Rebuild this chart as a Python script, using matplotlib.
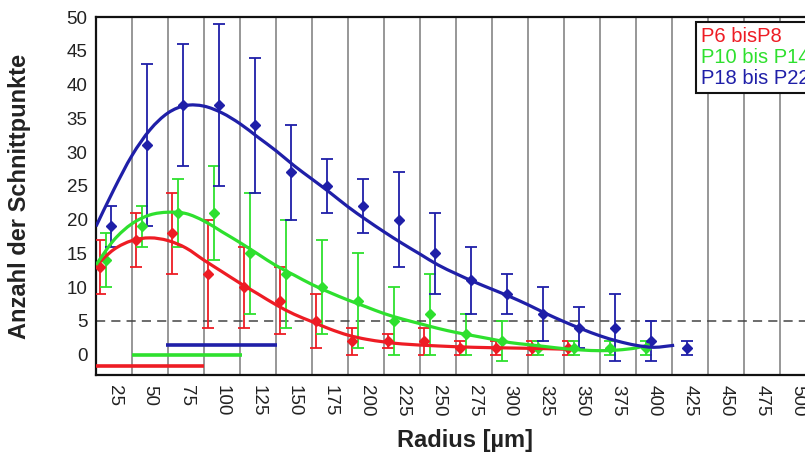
import matplotlib
matplotlib.use("Agg")
import matplotlib.pyplot as plt
from matplotlib.lines import Line2D
from matplotlib.path import Path
from matplotlib.patches import PathPatch

plt.rcParams.update(
    {
        "font.family": ["Liberation Sans", "DejaVu Sans"],
        "font.size": 13,
    }
)

# bin labels on the x axis (radius, um)
radius_bins = [25, 50, 75, 100, 125, 150, 175, 200, 225, 250,
               275, 300, 325, 350, 375, 400, 425, 450, 475, 500]

# measured means and errors per bin
red_bins = [25, 50, 75, 100, 125, 150, 175, 200, 225, 250, 275, 300, 325, 350]
red_mean = [13, 17, 18, 12, 10, 8, 5, 2, 2, 2, 1, 1, 1, 1]
red_err = [4, 4, 6, 8, 6, 5, 4, 2, 1, 2, 1, 1, 1, 1]

green_bins = [25, 50, 75, 100, 125, 150, 175, 200, 225, 250, 275, 300, 325, 350, 375, 400]
green_mean = [14, 19, 21, 21, 15, 12, 10, 8, 5, 6, 3, 2, 1, 1, 1, 1]
green_err = [4, 3, 5, 7, 9, 8, 7, 7, 5, 6, 3, 3, 1, 1, 1, 1]

blue_bins = [25, 50, 75, 100, 125, 150, 175, 200, 225, 250, 275, 300, 325, 350, 375, 400, 425]
blue_mean = [19, 31, 37, 37, 34, 27, 25, 22, 20, 15, 11, 9, 6, 4, 4, 2, 1]
blue_err = [3, 12, 9, 12, 10, 7, 4, 4, 7, 6, 5, 3, 4, 3, 5, 3, 1]

# fitted curves
red_fit_x = [12.5, 25, 37.5, 50, 62.5, 75, 87.5, 100, 112.5, 125, 137.5, 150, 162.5,
             175, 187.5, 200, 212.5, 225, 250, 275, 300, 325, 340]
red_fit_y = [13.2, 15.6, 16.9, 17.3, 16.9, 15.8, 14.0, 12.3, 10.6, 9.0, 7.4, 6.0, 4.9,
             3.8, 2.9, 2.3, 1.9, 1.6, 1.3, 1.1, 1.0, 0.9, 0.8]

green_fit_x = [12.5, 25, 37.5, 50, 62.5, 75, 87.5, 100, 112.5, 125, 137.5, 150, 162.5,
               175, 187.5, 200, 212.5, 225, 237.5, 250, 262.5, 275, 287.5, 300, 312.5,
               325, 337.5, 350, 362.5, 375, 387.5, 397]
green_fit_y = [13.3, 17.0, 19.4, 20.7, 21.1, 20.9, 19.8, 18.2, 16.6, 14.9, 13.2, 11.8, 10.4,
               9.2, 8.1, 7.1, 6.1, 5.3, 4.6, 3.9, 3.3, 2.8, 2.3, 1.8, 1.5,
               1.2, 0.9, 0.7, 0.6, 0.7, 1.0, 1.5]

blue_fit_x = [12.5, 25, 37.5, 50, 62.5, 75, 87.5, 100, 112.5, 125, 137.5, 150, 162.5,
              175, 187.5, 200, 212.5, 225, 237.5, 250, 262.5, 275, 287.5, 300, 312.5,
              325, 337.5, 350, 362.5, 375, 387.5, 400, 414]
blue_fit_y = [19.0, 24.5, 29.5, 33.3, 35.8, 36.9, 36.8, 35.8, 34.2, 32.2, 30.2, 28.0, 26.0,
              24.0, 21.9, 20.0, 18.2, 16.5, 14.9, 13.3, 12.0, 10.8, 9.7, 8.6, 7.4,
              6.1, 4.9, 3.8, 2.8, 2.0, 1.4, 1.1, 1.4]

# ranges drawn as bars near the bottom
range_start = [12.5, 37.5, 61]
range_end = [87.5, 114, 138]
range_level = [-1.6, 0.0, 1.5]

labels = ["P6 bisP8", "P10 bis P14", "P18 bis P22"]
colors = ["#ee1c24", "#2ee02e", "#1f1fa8"]
offsets = [-10, -5.5, -2]


def smooth_path(xs, ys):
    # Catmull-Rom through the read points, drawn as cubic Bezier segments
    verts = [(xs[0], ys[0])]
    codes = [Path.MOVETO]
    n = len(xs)
    for i in range(n - 1):
        x0, y0 = (xs[i - 1], ys[i - 1]) if i > 0 else (xs[i], ys[i])
        x1, y1 = xs[i], ys[i]
        x2, y2 = xs[i + 1], ys[i + 1]
        x3, y3 = (xs[i + 2], ys[i + 2]) if i + 2 < n else (x2, y2)
        c1 = (x1 + (x2 - x0) / 6, y1 + (y2 - y0) / 6)
        c2 = (x2 - (x3 - x1) / 6, y2 - (y3 - y1) / 6)
        verts += [c1, c2, (x2, y2)]
        codes += [Path.CURVE4] * 3
    return Path(verts, codes)


fig = plt.figure(figsize=(8.05, 4.54), dpi=100)
ax = fig.add_axes([96 / 805, 79 / 454, 720 / 805, 358 / 454])

ax.set_xlim(12.5, 512.5)
ax.set_ylim(-3, 50)

for edge in radius_bins[:-1]:
    ax.axvline(edge + 12.5, color="#858585", linewidth=1.2, zorder=0)
ax.axhline(5, color="#444444", linewidth=1.1, dashes=(6, 4), zorder=1)

series = [
    (red_bins, red_mean, red_err, red_fit_x, red_fit_y),
    (green_bins, green_mean, green_err, green_fit_x, green_fit_y),
    (blue_bins, blue_mean, blue_err, blue_fit_x, blue_fit_y),
]
for (bins, mean, err, fx, fy), color, off in zip(series, colors, offsets):
    xs = [b + off for b in bins]
    ax.errorbar(xs, mean, yerr=err, fmt="D", ms=5, color=color, ecolor=color,
                elinewidth=1.3, capsize=4.5, capthick=1.3, zorder=3)
    ax.add_patch(PathPatch(smooth_path(fx, fy), facecolor="none", edgecolor=color,
                           linewidth=2.3, capstyle="butt", zorder=4))

for x0, x1, lvl, color in zip(range_start, range_end, range_level, colors):
    ax.plot([x0, x1], [lvl, lvl], color=color, linewidth=2.6, solid_capstyle="butt",
            zorder=4)

ax.set_xticks(radius_bins)
ax.set_xticklabels([str(r) for r in radius_bins], rotation=270)
ax.set_yticks(range(0, 51, 5))
ax.tick_params(axis="both", length=0, labelsize=13.5, colors="#222222")
ax.tick_params(axis="x", pad=7)
ax.tick_params(axis="y", pad=6)

for side in ["left", "bottom", "top"]:
    ax.spines[side].set_linewidth(1.6)
    ax.spines[side].set_color("#111111")
ax.spines["right"].set_visible(False)

ax.set_xlabel("Radius [µm]", fontsize=17, fontweight="bold", color="#222222")
ax.xaxis.set_label_coords((465 - 96) / 720, (375 - 429) / 358)
ax.set_ylabel("Anzahl der Schnittpunkte", fontsize=17, fontweight="bold",
              color="#222222")
ax.yaxis.set_label_coords((31 - 96) / 720, 0.5)

handles = [Line2D([], [], linestyle="none") for _ in labels]
leg = fig.legend(handles, labels, loc="upper left",
                 bbox_to_anchor=(696 / 805, 1 - 22 / 454),
                 handlelength=0, handletextpad=0, labelcolor=colors,
                 fontsize=14.5, frameon=True, fancybox=False, framealpha=1,
                 edgecolor="#111111", borderpad=0.25, labelspacing=0.1,
                 borderaxespad=0)
leg.get_frame().set_linewidth(1.5)

fig.savefig("out.png", dpi=100)
